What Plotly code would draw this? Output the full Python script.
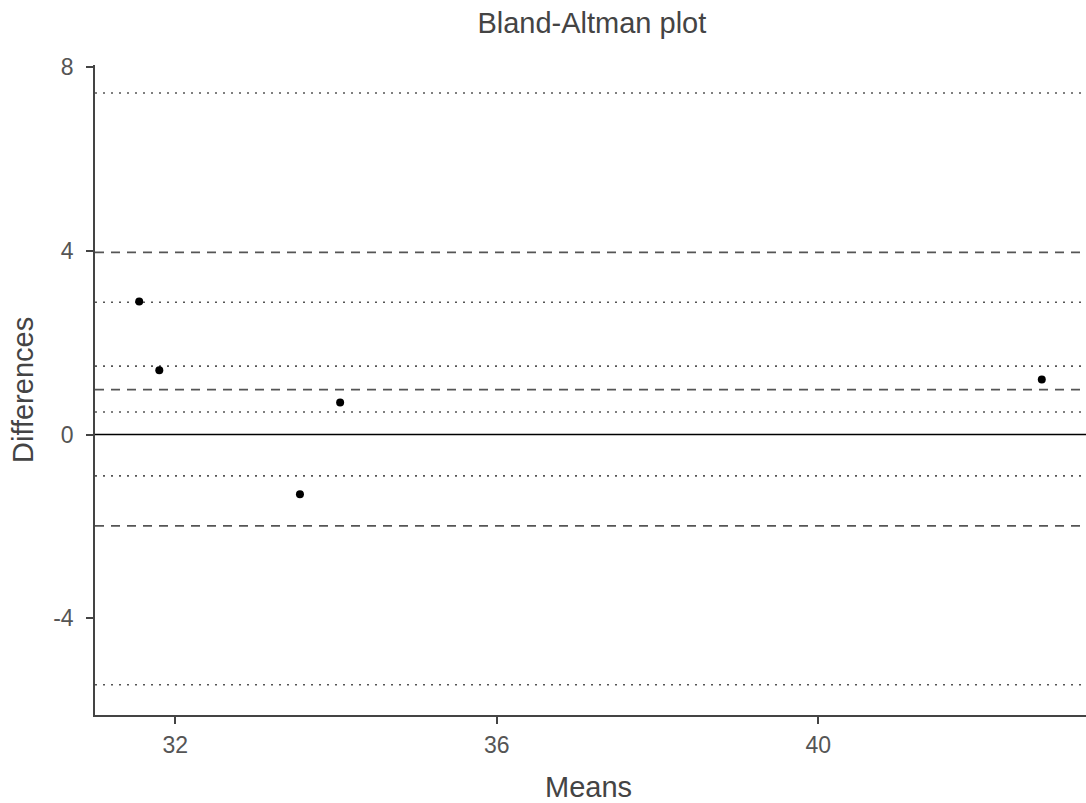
import plotly.graph_objects as go

# Data
means = [31.55, 31.80, 33.55, 34.05, 42.78]
diffs = [2.90, 1.40, -1.30, 0.70, 1.20]

mean_diff = 0.98
loa_upper = 3.97
loa_lower = -1.99
ci_mean = [0.49, 1.49]
ci_upper = [2.88, 7.44]
ci_lower = [-5.45, -0.90]

x_ticks = [32, 36, 40]
y_ticks = [8, 4, 0, -4]

fig = go.Figure()
fig.add_trace(go.Scatter(x=means, y=diffs, mode="markers",
                         marker=dict(color="black", size=8), showlegend=False))

def hline(y, dash, color, width):
    fig.add_shape(type="line", xref="x domain", yref="y", x0=0, x1=1, y0=y, y1=y,
                  line=dict(color=color, width=width, dash=dash), layer="below")

for v in ci_mean + ci_upper + ci_lower:
    hline(v, "2px,6px", "#555555", 1.6)
for v in [mean_diff, loa_upper, loa_lower]:
    hline(v, "9px,7px", "#555555", 1.8)
hline(0, "solid", "black", 1.5)

font = "Liberation Sans, Arial, sans-serif"
fig.add_annotation(text="Means", xref="x domain", yref="y domain", x=0.498, y=0,
                   yshift=-72, xanchor="center", yanchor="middle", showarrow=False,
                   font=dict(family=font, size=29, color="#444444"))
fig.add_annotation(text="Differences", xref="x domain", yref="y domain", x=0, y=0.5,
                   xshift=-72, xanchor="center", yanchor="middle", textangle=-90, showarrow=False,
                   font=dict(family=font, size=29, color="#444444"))
fig.update_layout(
    width=1086, height=803,
    margin=dict(l=95, r=0, t=65, b=88),
    paper_bgcolor="white", plot_bgcolor="white",
    title=dict(text="Bland-Altman plot", x=0.545, xanchor="center", y=0.972, yanchor="middle",
               font=dict(family=font, size=29, color="#444444")),
    xaxis=dict(range=[31.0, 43.33], tickvals=x_ticks, ticktext=[str(t) for t in x_ticks],
               showgrid=False, zeroline=False, showline=True, linecolor="#444444", linewidth=1.5,
               ticks="outside", ticklen=7, tickwidth=2, tickcolor="#444444",
               ticklabelstandoff=2,
               tickfont=dict(family=font, size=23, color="#555555")),
    yaxis=dict(range=[-6.11, 8.05], tickvals=y_ticks, ticktext=[str(t) for t in y_ticks],
               showgrid=False, zeroline=False, showline=True, linecolor="#444444", linewidth=1.5,
               ticks="outside", ticklen=7, tickwidth=2, tickcolor="#444444",
               ticklabelstandoff=8,
               tickfont=dict(family=font, size=23, color="#555555")),
)

fig.write_html("out.html")
